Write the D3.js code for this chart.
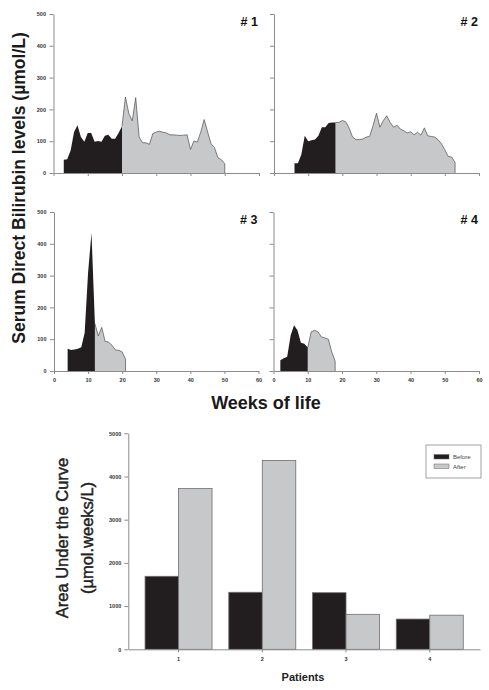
<!DOCTYPE html>
<html><head><meta charset="utf-8">
<script src="https://cdn.jsdelivr.net/npm/d3@7"></script>
<style>
html,body{margin:0;padding:0;background:#fff;}
svg{display:block;font-family:"Liberation Sans",Arial,sans-serif;}
</style></head>
<body>
<svg id="c" width="489" height="690"></svg>
<script>
// ---- Data: serum direct bilirubin (µmol/L) per week of life ----
const p1Weeks = [3,4,5,6,7,8,9,10,11,12,13,14,15,16,17,18,19,20,21,22,23,24,25,26,27,28,29,30,31,32,33,34,35,36,37,38,39,40,41,42,43,44,45,46,47,48,49,50];
const p1Values = [42,43,71,129,150,113,98,126,126,98,101,98,117,120,108,108,126,147,239,187,164,237,113,95,95,90,124,129,131,128,126,120,120,119,118,119,120,74,101,97,129,168,129,92,80,48,42,29];
const p1Split = 20;

const p2Weeks = [6,7,8,9,10,11,12,13,14,15,16,17,18,19,20,21,22,23,24,25,26,27,28,29,30,31,32,33,34,35,36,37,38,39,40,41,42,43,44,45,46,47,48,49,50,51,52,53];
const p2Values = [31,31,58,117,100,103,105,117,144,144,157,159,159,159,165,161,141,113,105,105,107,113,115,149,188,144,165,180,159,144,150,138,133,126,130,120,128,119,142,117,115,113,105,92,73,52,50,33];
const p2Split = 18;

const p3Weeks = [4,5,6,7,8,9,10,11,12,13,14,15,16,17,18,19,20,21];
const p3Values = [70,66,68,70,75,120,310,435,149,110,137,93,91,81,66,65,60,37];
const p3Split = 12;

const p4Weeks = [2,3,4,5,6,7,8,9,10,11,12,13,14,15,16,17,18];
const p4Values = [34,40,45,112,144,128,89,86,74,123,128,123,107,104,100,60,31];
const p4Split = 10;

const panelLabels = ["# 1","# 2","# 3","# 4"];
const xTicks = [0,10,20,30,40,50,60];
const yTicks = [0,100,200,300,400,500];

// ---- Data: area under the curve ----
const patients = ["1","2","3","4"];
const aucBefore = [1690,1320,1310,700];
const aucAfter = [3720,4370,810,790];
const aucTicks = [0,1000,2000,3000,4000,5000];
const seriesNames = ["Before","After"];

// ---- styles ----
const BLACK = "#221e1f", GRAY = "#c7c8ca", AXIS = "#8c8c8c", OUTLINE = "#4d4d4d";
const svg = d3.select("#c");

const panels = [
  {weeks:p1Weeks, values:p1Values, split:p1Split, x0:53.5, x1:259, yTop:14, yBot:173, xLabels:false, yLabels:true},
  {weeks:p2Weeks, values:p2Values, split:p2Split, x0:274, x1:479, yTop:14, yBot:173, xLabels:false, yLabels:false},
  {weeks:p3Weeks, values:p3Values, split:p3Split, x0:54, x1:258.5, yTop:212, yBot:371, xLabels:true, yLabels:true},
  {weeks:p4Weeks, values:p4Values, split:p4Split, x0:273.5, x1:479, yTop:212, yBot:371, xLabels:true, yLabels:false}
];

panels.forEach((p, i) => {
  const x = d3.scaleLinear().domain([0,60]).range([p.x0, p.x1]);
  const y = d3.scaleLinear().domain([0,500]).range([p.yBot, p.yTop]);
  const pts = p.weeks.map((w, k) => ({w, v: p.values[k]}));
  const before = pts.filter(d => d.w <= p.split);
  const after = pts.filter(d => d.w >= p.split);
  const area = d3.area().x(d => x(d.w)).y0(y(0)).y1(d => y(d.v));
  const g = svg.append("g");
  g.append("path").attr("d", area(after)).attr("fill", GRAY);
  const last = after[after.length-1];
  const outline = after.map(d => [x(d.w), y(d.v)]).concat([[x(last.w), y(0)]]);
  g.append("path").attr("d", d3.line()(outline)).attr("fill","none").attr("stroke",OUTLINE).attr("stroke-width",0.7);
  g.append("path").attr("d", area(before)).attr("fill", BLACK);

  const ya = d3.axisLeft(y).tickValues(yTicks).tickSize(4).tickSizeOuter(0).tickPadding(3.5);
  const yg = g.append("g").attr("transform", `translate(${p.x0},0)`).call(ya);
  const xa = d3.axisBottom(x).tickValues(xTicks).tickSize(3).tickSizeOuter(0).tickPadding(4);
  const xg = g.append("g").attr("transform", `translate(0,${p.yBot})`).call(xa);
  [yg, xg].forEach(ax => {
    ax.selectAll("path,line").attr("stroke", AXIS).attr("stroke-width", 1);
    ax.selectAll("text").attr("fill","#333").attr("font-size", 5.5).attr("font-weight","bold")
      .attr("font-family",'"Liberation Sans",Arial,sans-serif');
  });
  if (!p.yLabels) yg.selectAll("text").remove();
  if (!p.xLabels) xg.selectAll("text").remove();

  g.append("text").attr("x", p.x1 - 1).attr("y", p.yTop + 12)
    .attr("text-anchor","end").attr("font-size", 12.5).attr("font-weight","bold").attr("fill","#111")
    .text(panelLabels[i]);
});

svg.append("text").attr("transform","translate(25,188) rotate(-90)")
  .attr("text-anchor","middle").attr("font-size",17.5).attr("font-weight","bold").attr("fill","#1a1a1a")
  .text("Serum Direct Bilirubin levels (µmol/L)");
svg.append("text").attr("x",266).attr("y",409)
  .attr("text-anchor","middle").attr("font-size",18).attr("font-weight","bold").attr("fill","#1a1a1a")
  .text("Weeks of life");

// ---- Bar chart ----
const bx = d3.scaleBand().domain(patients).range([128.3, 480]).paddingOuter(0.2).paddingInner(0.2);
const by = d3.scaleLinear().domain([0,5000]).range([649.3, 433.3]);
const sub = d3.scaleBand().domain(seriesNames).range([0, bx.bandwidth()]);
const colors = {Before: BLACK, After: GRAY};
const bg = svg.append("g");
patients.forEach((pt, i) => {
  const vals = {Before: aucBefore[i], After: aucAfter[i]};
  seriesNames.forEach(s => {
    bg.append("rect").attr("x", bx(pt) + sub(s)).attr("width", sub.bandwidth())
      .attr("y", by(vals[s])).attr("height", by(0) - by(vals[s]))
      .attr("fill", colors[s]).attr("stroke", "#6e6e6e").attr("stroke-width", 0.8);
  });
});
const bya = bg.append("g").attr("transform","translate(128.3,0)")
  .call(d3.axisLeft(by).tickValues(aucTicks).tickFormat(d3.format("d")).tickSize(4).tickSizeOuter(0).tickPadding(3));
const bxa = bg.append("g").attr("transform","translate(0,649.3)")
  .call(d3.axisBottom(bx).tickSize(3).tickSizeOuter(0).tickPadding(5));
[bya, bxa].forEach(ax => {
  ax.selectAll("path,line").attr("stroke", AXIS).attr("stroke-width", 1);
  ax.selectAll("text").attr("fill","#333").attr("font-size",5.5).attr("font-weight","bold")
    .attr("font-family",'"Liberation Sans",Arial,sans-serif');
});

const ty = bg.append("text").attr("transform","translate(68,538) rotate(-90)")
  .attr("text-anchor","middle").attr("font-size",16.5).attr("font-weight","normal")
  .attr("fill","#222").attr("stroke","#222").attr("stroke-width",0.45);
ty.append("tspan").attr("x",0).attr("dy",0).text("Area Under the Curve");
ty.append("tspan").attr("x",0).attr("dy",25).text("(µmol.weeks/L)");

bg.append("text").attr("x",303).attr("y",681).attr("text-anchor","middle")
  .attr("font-size",11).attr("font-weight","bold").attr("fill","#222").text("Patients");

// legend
const lg = bg.append("g");
lg.append("rect").attr("x",426).attr("y",445).attr("width",55).attr("height",33)
  .attr("fill","#fff").attr("stroke","#8a8a8a").attr("stroke-width",0.8);
seriesNames.forEach((s, k) => {
  lg.append("rect").attr("x",434).attr("y",454.5 + k*9.5).attr("width",15).attr("height",4.5)
    .attr("fill",colors[s]).attr("stroke","#666").attr("stroke-width",0.5);
  lg.append("text").attr("x",453).attr("y",459 + k*9.5).attr("font-size",6).attr("fill","#444").text(s);
});
</script>
</body></html>
